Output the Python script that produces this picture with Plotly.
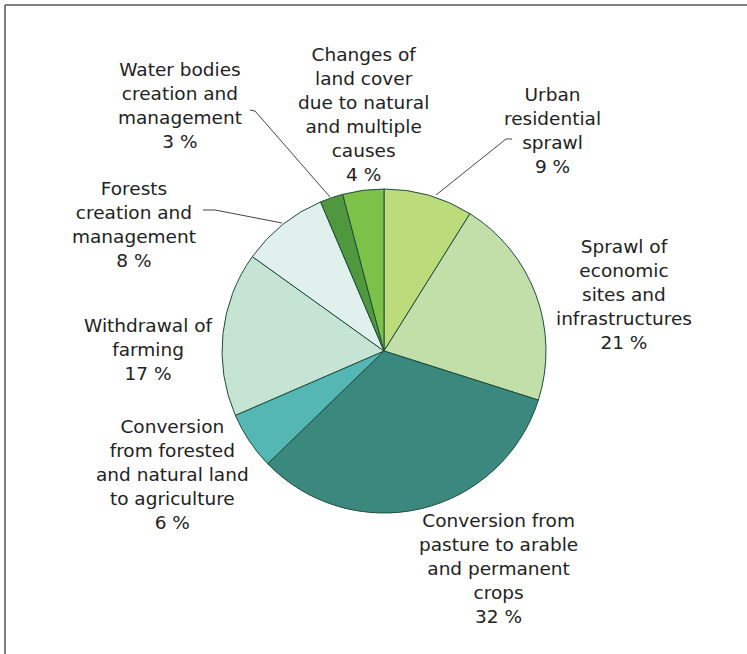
import plotly.graph_objects as go

W, H = 747, 654

# ---- data ----
categories = [
    "Urban<br>residential<br>sprawl",
    "Sprawl of<br>economic<br>sites and<br>infrastructures",
    "Conversion from<br>pasture to arable<br>and permanent<br>crops",
    "Conversion<br>from forested<br>and natural land<br>to agriculture",
    "Withdrawal of<br>farming",
    "Forests<br>creation and<br>management",
    "Water bodies<br>creation and<br>management",
    "Changes of<br>land cover<br>due to natural<br>and multiple<br>causes",
]
values = [8.9, 21.0, 32.85, 5.75, 16.4, 8.7, 2.3, 4.1]
pct_labels = ["9 %", "21 %", "32 %", "6 %", "17 %", "8 %", "3 %", "4 %"]
colors = ["#bcdb7a", "#c3dfa9", "#3a887e", "#55b7b3",
          "#c6e4d3", "#e0f0ec", "#4f983d", "#7cc248"]

# label placement (pixel centres)
label_pos = [(552, 130), (624, 295), (498, 568), (172, 474),
             (148, 349), (134, 224), (180, 105), (363, 114)]


def px(x, y):
    return x / W, 1 - y / H


cx, cy, r = 384, 351, 162
dom_x = [(cx - r) / W, (cx + r) / W]
dom_y = [1 - (cy + r) / H, 1 - (cy - r) / H]

fig = go.Figure(go.Pie(
    labels=[c.replace("<br>", " ") for c in categories],
    values=values,
    sort=False,
    direction="clockwise",
    rotation=0,
    marker=dict(colors=colors, line=dict(color="#1f4d3c", width=1)),
    textinfo="none",
    hoverinfo="label+percent",
    domain=dict(x=dom_x, y=dom_y),
    showlegend=False,
))

for cat, pct, (x, y) in zip(categories, pct_labels, label_pos):
    ax, ay = px(x, y)
    fig.add_annotation(
        x=ax, y=ay, xref="paper", yref="paper",
        text=cat + "<br>" + pct, showarrow=False,
        xanchor="center", yanchor="middle", align="center",
        font=dict(family="DejaVu Sans", size=18.5, color="#222222"),
    )

# leader lines
def path(points):
    s = ""
    for i, (x, y) in enumerate(points):
        X, Y = px(x, y)
        s += ("M" if i == 0 else "L") + f"{X},{Y} "
    return s

leaders = [
    [(436, 195), (506, 139), (512, 139)],
    [(250, 110), (255, 111), (330, 197)],
    [(203, 210), (215, 210), (282, 223)],
]
for pts in leaders:
    fig.add_shape(type="path", path=path(pts), xref="paper", yref="paper",
                  line=dict(color="#444444", width=1))

# frame (top and left edges)
fig.add_shape(type="line", xref="paper", yref="paper",
              x0=5 / W, y0=1 - 5 / H, x1=1.02, y1=1 - 5 / H,
              line=dict(color="#555555", width=1.5))
fig.add_shape(type="line", xref="paper", yref="paper",
              x0=5 / W, y0=1 - 5 / H, x1=5 / W, y1=-0.02,
              line=dict(color="#555555", width=1.5))

fig.update_layout(
    width=W, height=H,
    margin=dict(l=0, r=0, t=0, b=0),
    paper_bgcolor="white", plot_bgcolor="white",
)

fig.write_html(
    "out.html",
    config={"displayModeBar": False},
    post_script="document.body.style.margin='0';document.body.style.overflow='hidden';",
)
